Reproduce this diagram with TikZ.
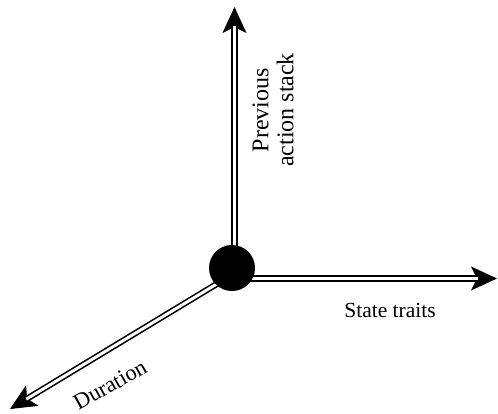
\documentclass[tikz,border=0pt]{standalone}
\usepackage{fontspec}
\setmainfont{Liberation Serif}
\usetikzlibrary{arrows.meta,calc}
\tikzset{
  axisshaft/.style={draw=black, line width=1.6pt, double=white, double distance=3pt},
  axishead/.style={draw=black, line width=1pt, -{Stealth[length=26pt,width=24pt,inset=6pt]}},
  lbl/.style={inner sep=0pt},
  hub/.style={circle, fill=black, minimum size=46pt, inner sep=0pt}
}
\begin{document}
\begin{tikzpicture}[x=1pt,y=-1pt]
\useasboundingbox (0,0) rectangle (498,413);
\coordinate (vs) at (234.5,262);
\coordinate (vt) at (234.5,7);
\coordinate (hs) at (240,278.5);
\coordinate (ht) at (497,278.5);
\coordinate (ds) at (225,279);
\coordinate (dt) at (10,409);
\foreach \s/\t in {vs/vt, hs/ht, ds/dt}{
  \draw[axishead] ($(\t)!30pt!(\s)$) -- (\t);
  \draw[axisshaft] (\s) -- ($(\t)!19pt!(\s)$);
}
\node[hub] (c) at (232,268) {};
\node[lbl, rotate=90, align=center, font=\fontsize{24}{25}\selectfont] (pas) at (273,110) {Previous\\action stack};
\node[lbl, font=\fontsize{21.5}{26}\selectfont] (st) at (390,310) {State traits};
\node[lbl, rotate=29, font=\fontsize{22.5}{26}\selectfont] (du) at (110,385) {Duration};
\end{tikzpicture}
\end{document}
